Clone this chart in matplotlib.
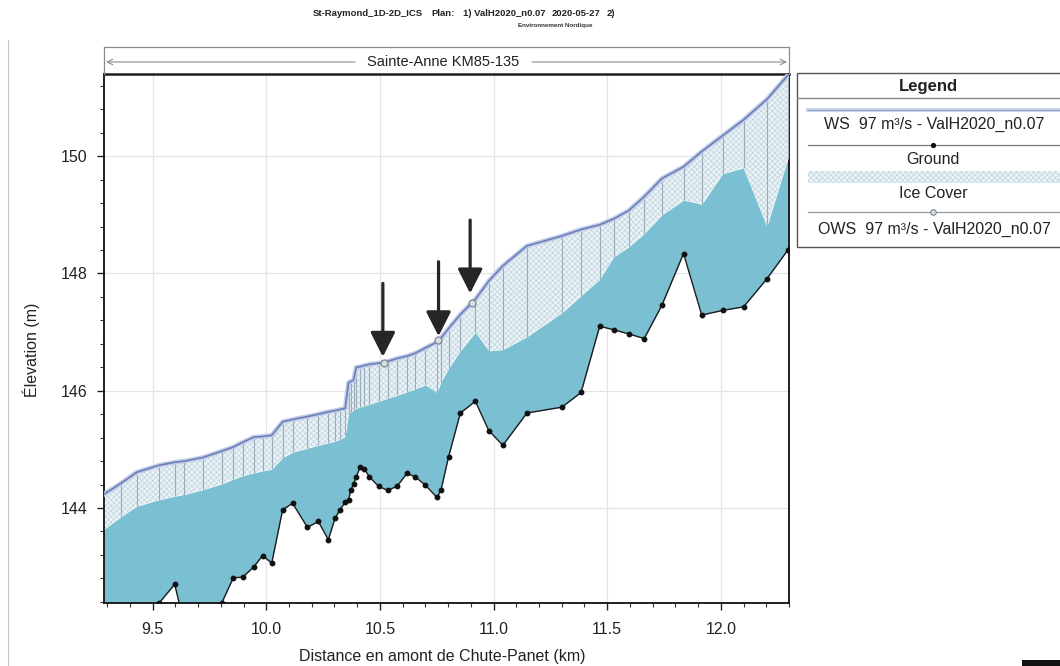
import numpy as np
import matplotlib
matplotlib.use('Agg')
import matplotlib.pyplot as plt
from matplotlib.patches import Rectangle
from matplotlib.ticker import MultipleLocator, FormatStrFormatter

plt.rcParams['font.family'] = ['Liberation Sans', 'DejaVu Sans']
plt.rcParams['hatch.linewidth'] = 0.3

# ---------------- data ----------------
station_km = [9.280, 9.360, 9.430, 9.529, 9.597, 9.640, 9.720, 9.804, 9.855, 9.896,
              9.946, 9.984, 10.024, 10.072, 10.116, 10.181, 10.229, 10.273, 10.303, 10.325,
              10.347, 10.362, 10.372, 10.384, 10.396, 10.413, 10.431, 10.454, 10.494, 10.534,
              10.575, 10.619, 10.656, 10.700, 10.751, 10.769, 10.802, 10.854, 10.920, 10.979,
              11.041, 11.147, 11.301, 11.385, 11.467, 11.528, 11.594, 11.663, 11.741, 11.836,
              11.916, 12.008, 12.100, 12.203, 12.295, 12.330]

ground_elev = [141.60, 141.90, 142.10, 142.38, 142.70, 142.00, 141.90, 142.38, 142.81, 142.82,
               143.00, 143.19, 143.06, 143.97, 144.08, 143.67, 143.77, 143.46, 143.83, 143.97,
               144.10, 144.14, 144.30, 144.41, 144.53, 144.70, 144.67, 144.53, 144.37, 144.30,
               144.37, 144.59, 144.53, 144.39, 144.18, 144.31, 144.87, 145.62, 145.82, 145.32,
               145.07, 145.62, 145.72, 145.97, 147.10, 147.04, 146.97, 146.89, 147.46, 148.34,
               147.29, 147.37, 147.43, 147.91, 148.40, 148.70]

ice_bottom = [143.62, 143.85, 144.03, 144.14, 144.20, 144.23, 144.31, 144.41, 144.49, 144.55,
              144.60, 144.63, 144.66, 144.86, 144.95, 145.02, 145.07, 145.11, 145.14, 145.17,
              145.22, 145.60, 145.64, 145.67, 145.70, 145.72, 145.74, 145.77, 145.82, 145.87,
              145.92, 145.98, 146.03, 146.10, 145.97, 146.15, 146.38, 146.68, 147.00, 146.68,
              146.70, 146.92, 147.33, 147.62, 147.90, 148.28, 148.45, 148.68, 149.00, 149.25,
              149.18, 149.70, 149.80, 148.80, 149.96, 150.10]

ws_elev = [144.22, 144.42, 144.61, 144.73, 144.78, 144.80, 144.86, 144.97, 145.04, 145.12,
           145.21, 145.22, 145.24, 145.47, 145.51, 145.56, 145.60, 145.64, 145.66, 145.68,
           145.70, 146.14, 146.16, 146.18, 146.40, 146.41, 146.43, 146.45, 146.47, 146.50,
           146.55, 146.59, 146.64, 146.73, 146.83, 146.90, 147.06, 147.30, 147.56, 147.87,
           148.13, 148.47, 148.64, 148.75, 148.83, 148.93, 149.07, 149.31, 149.62, 149.82,
           150.08, 150.35, 150.62, 150.97, 151.38, 151.52]

ows_km = [10.520, 10.757, 10.905]
ows_elev = [146.48, 146.86, 147.50]

arrow_km = [10.513, 10.758, 10.897]
arrow_tip = [146.58, 146.93, 147.66]
arrow_top = [147.83, 148.20, 148.91]

x_ticks = [9.5, 10.0, 10.5, 11.0, 11.5, 12.0]
y_ticks = [144, 146, 148, 150]

title_parts = ['St-Raymond_1D-2D_ICS', 'Plan:', '1) ValH2020_n0.07', '2020-05-27', '2)']
reach_name = 'Sainte-Anne KM85-135'
legend_labels = ['WS  97 m\u00b3/s - ValH2020_n0.07', 'Ground', 'Ice Cover',
                 'OWS  97 m\u00b3/s - ValH2020_n0.07']

# ---------------- styles ----------------
TEAL = '#7bc0d2'
ICE_FACE = '#e8f3f7'
ICE_HATCH = '#b0c3cf'
WS_COL = '#6a7ebb'
WS_HALO = '#c3cde6'

W, H = 1060, 666
fig = plt.figure(figsize=(W / 100, H / 100), dpi=100)
fig.patch.set_facecolor('white')

L, R, T, B = 104, 789, 73.5, 603
ax = fig.add_axes([L / W, 1 - B / H, (R - L) / W, (B - T) / H])
ax.set_xlim(9.286, 12.30)
ax.set_ylim(142.38, 151.41)

ax.set_axisbelow(True)
ax.grid(True, which='major', color='#e4e4e4', lw=0.9)

# water under ice
ax.fill_between(station_km, ground_elev, ice_bottom, color=TEAL, lw=0, zorder=2)
# ice cover
ax.fill_between(station_km, ice_bottom, ws_elev, facecolor=ICE_FACE, edgecolor=ICE_HATCH,
                hatch='xxxxxx', lw=0, zorder=2)
ax.vlines(station_km, ice_bottom, ws_elev, color='#9aacba', lw=0.8, zorder=3)

# water surface lines
ax.plot(station_km, ws_elev, color=WS_HALO, lw=3.4, zorder=4, solid_capstyle='round')
ax.plot(station_km, ws_elev, color=WS_COL, lw=1.2, zorder=5)
ax.plot(ows_km, ows_elev, 'o', ms=5, mfc='#d6dde4', mec='#7f878f', mew=0.9, zorder=6)

# ground
ax.plot(station_km, ground_elev, color='#1c1c1c', lw=1.0, marker='o', ms=3.2,
        mfc='#111111', mec='#111111', zorder=6)

# arrows
for xk, yt, y0 in zip(arrow_km, arrow_tip, arrow_top):
    ax.annotate('', xy=(xk, yt), xytext=(xk, y0),
                arrowprops=dict(arrowstyle='-|>,head_length=0.75,head_width=0.38',
                                lw=2.3, color='#262626', shrinkA=0, shrinkB=0,
                                mutation_scale=20), zorder=7)

ax.set_xticks(x_ticks)
ax.set_yticks(y_ticks)
ax.xaxis.set_minor_locator(MultipleLocator(0.1))
ax.yaxis.set_minor_locator(MultipleLocator(0.4))
ax.xaxis.set_major_formatter(FormatStrFormatter('%.1f'))
ax.yaxis.set_major_formatter(FormatStrFormatter('%d'))
ax.tick_params(axis='both', which='major', direction='out', length=5, width=1,
               labelsize=11.5, colors='#222222')
ax.tick_params(axis='both', which='minor', direction='out', length=3, width=0.8,
               colors='#333333')
ax.tick_params(axis='x', pad=9)
ax.tick_params(axis='y', pad=7)
for sp in ax.spines.values():
    sp.set_color('#1e1e1e')
    sp.set_linewidth(1.4)
ax.spines['top'].set_linewidth(1.8)

# ---------------- overlay (pixel coordinates) ----------------
ov = fig.add_axes([0, 0, 1, 1], zorder=10)
ov.set_xlim(0, W)
ov.set_ylim(H, 0)
ov.axis('off')
ov.patch.set_visible(False)

# title (left-aligned pieces)
tx = [313, 431, 463, 552, 607]
for s, x in zip(title_parts, tx):
    ov.text(x, 13, s, ha='left', va='center', fontsize=6.8, color='#222222',
            family=['Liberation Sans Narrow', 'Liberation Sans'], fontweight='bold')
ov.text(555, 26, 'Environnement Nordique', ha='center', va='center', fontsize=4.5,
        fontweight='bold', color='#333333')

# reach frame
ov.plot([L, R], [47, 47], color='#8c8c8c', lw=0.9)
ov.plot([L, L], [47, T], color='#8c8c8c', lw=0.9)
ov.plot([R, R], [47, T], color='#8c8c8c', lw=0.9)
ov.annotate('', xy=(L + 2, 62), xytext=(355, 62),
            arrowprops=dict(arrowstyle='->', color='#8c8c8c', lw=0.8, shrinkA=0, shrinkB=0))
ov.annotate('', xy=(R - 2, 62), xytext=(532, 62),
            arrowprops=dict(arrowstyle='->', color='#8c8c8c', lw=0.8, shrinkA=0, shrinkB=0))
ov.text(443, 62, reach_name, ha='center', va='center', fontsize=10.5, color='#222222')

# page edge line
ov.plot([8, 8], [40, H], color='#c8c8c8', lw=0.8)

# axis labels
ov.text(442, 657, 'Distance en amont de Chute-Panet (km)', ha='center', va='center',
        fontsize=11.5, color='#222222')
ov.text(31, 350, '\u00c9levation (m)', ha='center', va='center', rotation=90,
        fontsize=11.5, color='#222222')

# legend box
ov.add_patch(Rectangle((797, 73), 270, 174, facecolor='white', edgecolor='#555555', lw=1.0))
ov.text(928, 86, 'Legend', ha='center', va='center', fontsize=12, fontweight='bold',
        color='#222222')
ov.plot([797, W], [98, 98], color='#8a8a8a', lw=1.0)
# WS sample
ov.plot([808, W], [110, 110], color=WS_HALO, lw=2.6)
ov.plot([808, W], [110, 110], color='#9aa6c8', lw=0.9)
ov.text(934, 124, legend_labels[0], ha='center', va='center', fontsize=11.5, color='#222222')
# Ground sample
ov.plot([808, W], [145, 145], color='#7a7a7a', lw=0.9)
ov.plot([933], [145], 'o', ms=2.8, color='#111111')
ov.text(933, 159, legend_labels[1], ha='center', va='center', fontsize=11.5, color='#222222')
# Ice sample
ov.add_patch(Rectangle((808, 171), W - 808, 12, facecolor=ICE_FACE, edgecolor=ICE_HATCH,
                       hatch='xxxxxx', lw=0))
ov.text(933, 194, legend_labels[2], ha='center', va='center', fontsize=11.5, color='#222222')
# OWS sample
ov.plot([808, W], [212, 212], color='#9a9a9a', lw=0.9)
ov.plot([933], [212], 'o', ms=4, mfc='#d6dde4', mec='#7f878f', mew=0.8)
ov.text(934, 229, legend_labels[3], ha='center', va='center', fontsize=11.5, color='#222222')

# scanner mark bottom-right
ov.add_patch(Rectangle((1022, 660), 40, 8, facecolor='#111111', edgecolor='none'))

fig.savefig('out.png', dpi=100, facecolor='white')
